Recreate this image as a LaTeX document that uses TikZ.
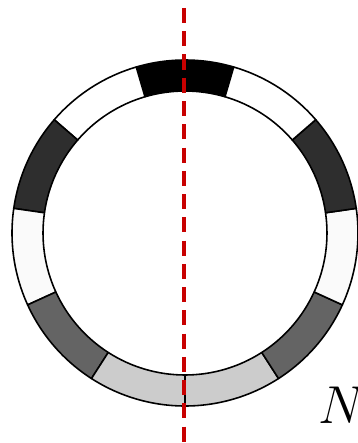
\documentclass[tikz,border=0pt]{standalone}
\usepackage{amsmath}
\usepackage{tikz}
\usetikzlibrary{positioning,calc}
\definecolor{RingDark}{RGB}{46,46,46}
\definecolor{RingGray}{RGB}{100,100,100}
\definecolor{RingLight}{RGB}{204,204,204}
\definecolor{RingPale}{RGB}{250,250,250}
\definecolor{AxisRed}{RGB}{200,0,0}
\tikzset{ringseg/.style={draw=black,line width=0.9pt,line join=round},
	axisline/.style={AxisRed,line width=2.3pt,dash pattern=on 0.3cm off 0.165cm}}
\def\rin{2.84}
\def\rout{3.46}

\begin{document}
\begin{tikzpicture}[scale=1]
	\useasboundingbox (-3.7,-4.2) rectangle (3.46,4.66);
	% eleven cells round the ring
	\foreach \c [count=\i from 0] in {black,white,RingDark,RingPale,RingGray,RingLight,RingLight,RingGray,RingPale,RingDark,white} {
		\pgfmathsetmacro\a{73.64+\i*360/11}
		\pgfmathsetmacro\b{\a+360/11}
		\draw[ringseg,fill=\c] (\a:\rin) arc (\a:\b:\rin) -- (\b:\rout) arc (\b:\a:\rout) -- cycle;
	}
	\coordinate (axtop) at (-0.02,4.5);
	\coordinate (axbot) at (-0.02,-4.25);
	\draw[axisline] (axtop) -- (axbot);
	\node[anchor=base west,inner sep=0pt,scale=1.22] (lblN) at (2.66,-3.8) {\fontsize{24.88}{30}\selectfont $N$};
\end{tikzpicture}
\end{document}
